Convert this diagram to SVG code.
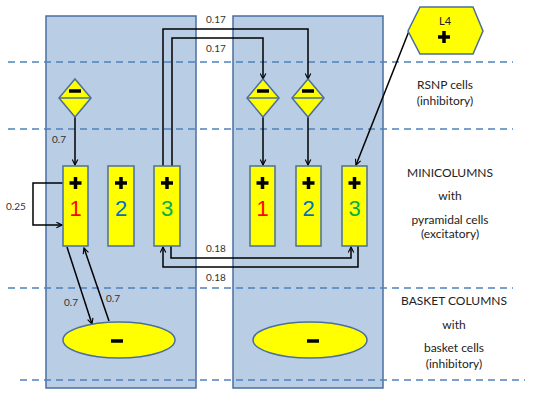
<svg xmlns="http://www.w3.org/2000/svg" width="533" height="400" viewBox="0 0 533 400">
<defs>
<style>
.panel{fill:#B9CDE5;stroke:#4A6F9E;stroke-width:1.5}
.dash{stroke:#4F81BD;stroke-width:1.5;stroke-dasharray:7,5;fill:none}
.cell{fill:#FFFF00;stroke:#4A6F9E;stroke-width:1.5}
.sym{stroke:#000;stroke-width:3.5;fill:none}
.con{stroke:#000;stroke-width:1.5;fill:none}
.lbl{font-family:Lato,"Liberation Sans",sans-serif;font-size:10px;fill:#333}
.txt{font-family:Lato,"Liberation Sans",sans-serif;font-size:12px;fill:#222;text-anchor:middle}
.num{font-family:"Liberation Sans",Arial,sans-serif;font-size:22px;text-anchor:middle}
</style>
<marker id="ah" viewBox="0 0 10 10" refX="9" refY="5" markerWidth="7" markerHeight="7" orient="auto" markerUnits="userSpaceOnUse">
<path d="M1,1 L9,5 L1,9" fill="none" stroke="#000" stroke-width="1.6"/>
</marker>
<path id="plus" d="M-6,0 H6 M0,-6 V6"/>
</defs>
<rect width="533" height="400" fill="#fff"/>
<g id="panels">
<rect class="panel" x="46" y="16" width="150" height="372"/>
<rect class="panel" x="233" y="16" width="150" height="372"/>
</g>
<g id="layers">
<line class="dash" x1="8" y1="62" x2="513" y2="62"/>
<line class="dash" x1="8" y1="129" x2="513" y2="129"/>
<line class="dash" x1="8" y1="288" x2="513" y2="288"/>
<line class="dash" x1="20" y1="380" x2="525" y2="380"/>
</g>
<g id="connectors">
<polyline class="con" points="163,166 163,29 308,29 308,79" marker-end="url(#ah)"/>
<polyline class="con" points="172,166 172,38 263,38 263,79" marker-end="url(#ah)"/>
<line class="con" x1="75" y1="117" x2="75" y2="165" marker-end="url(#ah)"/>
<line class="con" x1="263" y1="117" x2="263" y2="165" marker-end="url(#ah)"/>
<line class="con" x1="308" y1="117" x2="308" y2="165" marker-end="url(#ah)"/>
<line class="con" x1="409" y1="31" x2="356" y2="165" marker-end="url(#ah)"/>
<polyline class="con" points="63,183 33,183 33,225 62,225" marker-end="url(#ah)"/>
<polyline class="con" points="171,246 171,258 351,258 351,247" marker-end="url(#ah)"/>
<polyline class="con" points="358,246 358,267 163,267 163,247" marker-end="url(#ah)"/>
<line class="con" x1="67" y1="247" x2="92" y2="324" marker-end="url(#ah)"/>
<line class="con" x1="109" y1="321" x2="84" y2="248" marker-end="url(#ah)"/>
</g>
<g id="labels">
<text class="lbl" x="206" y="23">0.17</text>
<text class="lbl" x="206" y="52">0.17</text>
<text class="lbl" x="52" y="143">0.7</text>
<text class="lbl" x="6" y="210">0.25</text>
<text class="lbl" x="206" y="252">0.18</text>
<text class="lbl" x="206" y="281">0.18</text>
<text class="lbl" x="64" y="306">0.7</text>
<text class="lbl" x="106" y="302">0.7</text>
</g>
<g id="rsnp-left">
<polygon class="cell" points="75,79 91,98 75,117 59,98"/>
<line x1="59" y1="98" x2="91" y2="98" stroke="#4A6F9E" stroke-width="1.5"/>
<line class="sym" x1="69" y1="91" x2="81" y2="91"/>
</g>
<g id="rsnp-right-1">
<polygon class="cell" points="263,79 279,98 263,117 247,98"/>
<line x1="247" y1="98" x2="279" y2="98" stroke="#4A6F9E" stroke-width="1.5"/>
<line class="sym" x1="257" y1="91" x2="269" y2="91"/>
</g>
<g id="rsnp-right-2">
<polygon class="cell" points="308,79 324,98 308,117 292,98"/>
<line x1="292" y1="98" x2="324" y2="98" stroke="#4A6F9E" stroke-width="1.5"/>
<line class="sym" x1="302" y1="91" x2="314" y2="91"/>
</g>
<g id="mini-left-1">
<rect class="cell" x="63" y="166" width="25" height="80"/>
<use href="#plus" class="sym" x="75.5" y="183"/>
<text class="num" x="75.5" y="216" fill="#FF0000">1</text>
</g>
<g id="mini-left-2">
<rect class="cell" x="108" y="166" width="26" height="80"/>
<use href="#plus" class="sym" x="121" y="183"/>
<text class="num" x="121" y="216" fill="#0070C0">2</text>
</g>
<g id="mini-left-3">
<rect class="cell" x="154" y="166" width="26" height="80"/>
<use href="#plus" class="sym" x="167" y="183"/>
<text class="num" x="167" y="216" fill="#00B050">3</text>
</g>
<g id="mini-right-1">
<rect class="cell" x="250" y="166" width="25" height="80"/>
<use href="#plus" class="sym" x="262.5" y="183"/>
<text class="num" x="262.5" y="216" fill="#FF0000">1</text>
</g>
<g id="mini-right-2">
<rect class="cell" x="296" y="166" width="25" height="80"/>
<use href="#plus" class="sym" x="308.5" y="183"/>
<text class="num" x="308.5" y="216" fill="#0070C0">2</text>
</g>
<g id="mini-right-3">
<rect class="cell" x="342" y="166" width="25" height="80"/>
<use href="#plus" class="sym" x="354.5" y="183"/>
<text class="num" x="354.5" y="216" fill="#00B050">3</text>
</g>
<g id="basket-left">
<ellipse class="cell" cx="119" cy="340" rx="56" ry="18"/>
<line class="sym" x1="111" y1="341" x2="123" y2="341"/>
</g>
<g id="basket-right">
<ellipse class="cell" cx="310" cy="340" rx="57" ry="18"/>
<line class="sym" x1="307" y1="341" x2="319" y2="341"/>
</g>
<g id="l4">
<polygon class="cell" points="420,7 473,7 483,31 473,54 420,54 408,31"/>
<text x="445" y="25" font-family="Lato,'Liberation Sans',sans-serif" font-size="11" fill="#222" text-anchor="middle">L4</text>
<use href="#plus" class="sym" x="444" y="37"/>
</g>
<g id="legend">
<text class="txt" x="445" y="89">RSNP cells</text>
<text class="txt" x="445" y="105">(inhibitory)</text>
<text class="txt" x="450" y="177">MINICOLUMNS</text>
<text class="txt" x="450" y="200">with</text>
<text class="txt" x="450" y="224">pyramidal cells</text>
<text class="txt" x="450" y="238">(excitatory)</text>
<text class="txt" x="454" y="305">BASKET COLUMNS</text>
<text class="txt" x="454" y="329">with</text>
<text class="txt" x="454" y="352">basket cells</text>
<text class="txt" x="454" y="368">(inhibitory)</text>
</g>
</svg>
